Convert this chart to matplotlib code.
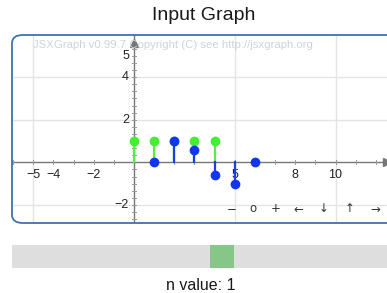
import matplotlib
matplotlib.use("Agg")
import matplotlib.pyplot as plt
from matplotlib.patches import FancyBboxPatch, Rectangle
import numpy as np

# Data
green_x = [0, 1, 2, 3, 4]
green_y = [1, 1, 1, 1, 1]
blue_x = [1, 2, 3, 4, 5, 6]
blue_y = [0, 1, 0.6, -0.6, -1, 0]
xtick_labels = [-5, -4, -2, 5, 8, 10]
ytick_labels = [5, 4, 2, -2]
xgrid = [-5, 5, 10]
ygrid = [-2, 2, 4]
nav_labels = ["\u2212", "o", "+", "\u2190", "\u2193", "\u2191", "\u2192"]
title = "Input Graph"
slider_label = "n value: 1"

W, H = 387, 293
fig = plt.figure(figsize=(W / 100, H / 100), dpi=100)
fam = ["Liberation Sans", "DejaVu Sans"]

def fx(px):
    return px / W

def fy(py):
    return 1 - py / H

# Board box
box_l, box_r, box_t, box_b = 12, 400, 35, 223
ax = fig.add_axes([fx(box_l), fy(box_b), fx(box_r - box_l), (box_b - box_t) / H])
x0_px, ux = 134, 20.15
y0_px, uy = 162.3, 21.3
ax.set_xlim((box_l - x0_px) / ux, (box_r - x0_px) / ux)
ax.set_ylim((y0_px - box_b) / uy, (y0_px - box_t) / uy)
ax.set_axis_off()
ax.patch.set_alpha(0)

for g in xgrid:
    ax.axvline(g, color="#e4e4e4", lw=1.0, zorder=0)
for g in ygrid:
    ax.axhline(g, color="#e4e4e4", lw=1.0, zorder=0)

# axes lines
ax.axhline(0, color="#777777", lw=1.0, zorder=1)
ax.axvline(0, color="#777777", lw=1.0, zorder=1)
ax.plot([0], [5.62], marker="^", color="#777777", ms=6, zorder=2, clip_on=False)
ax.plot([12.55], [0], marker=">", color="#777777", ms=6, zorder=2, clip_on=False)

# minor ticks
for t in np.arange(-6, 14, 1):
    if t != 0:
        ax.plot([t, t], [-0.1, 0.1], color="#999999", lw=0.7, zorder=1)
for t in np.arange(-8, 18) / 3:
    if abs(t) > 1e-6:
        ax.plot([-0.12, 0.12], [t, t], color="#999999", lw=0.7, zorder=1)

for t in xtick_labels:
    ax.text(t, -0.3, "\u2212" + str(-t) if t < 0 else str(t), ha="center", va="top",
            fontsize=9, color="#222222", family=fam, zorder=3)
for t in ytick_labels:
    ax.text(-0.25, t, "\u2212" + str(-t) if t < 0 else str(t), ha="right", va="center",
            fontsize=9, color="#222222", family=fam, zorder=3)

# stems
for xv, yv in zip(green_x, green_y):
    ax.plot([xv, xv], [0, yv], color="#55ee44", lw=1.6, zorder=4)
ax.plot(green_x, green_y, "o", color="#44ee33", ms=6, zorder=5)
for xv, yv in zip(blue_x, blue_y):
    ax.plot([xv, xv], [0, yv], color="#1a3fe6", lw=1.6, zorder=6)
ax.plot(blue_x, blue_y, "o", color="#1236ee", ms=6, zorder=7)

# watermark
fig.text(fx(33), fy(45), "JSXGraph v0.99.7 Copyright (C) see http://jsxgraph.org",
         fontsize=8.2, color="#cdd3dd", family=fam, ha="left", va="center", zorder=0)

# nav bar
nav_x = [232, 253, 276, 298, 324, 350, 375]
for px, lab in zip(nav_x, nav_labels):
    fig.text(fx(px), fy(209), lab, fontsize=8.5, color="#333333",
             family=["DejaVu Sans"], ha="center", va="center")

# box border
fig.patches.append(FancyBboxPatch((fx(box_l), fy(box_b)), fx(box_r - box_l), (box_b - box_t) / H,
                                  boxstyle="round,pad=0,rounding_size=0.028",
                                  transform=fig.transFigure, fill=False,
                                  edgecolor="#3f72ae", lw=1.3, zorder=10))

# title
fig.text(fx(204), fy(16), title, fontsize=14, color="#1a1a1a", family=fam,
         ha="center", va="center")

# slider
fig.patches.append(Rectangle((fx(12), fy(268)), fx(400 - 12), 23 / H,
                             transform=fig.transFigure, color="#dedede", lw=0))
fig.patches.append(Rectangle((fx(210), fy(268)), fx(24), 23 / H,
                             transform=fig.transFigure, color="#86c686", lw=0))
fig.text(fx(201), fy(286), slider_label, fontsize=11.5, color="#1a1a1a", family=fam,
         ha="center", va="center")

fig.savefig("out.png", dpi=100)
